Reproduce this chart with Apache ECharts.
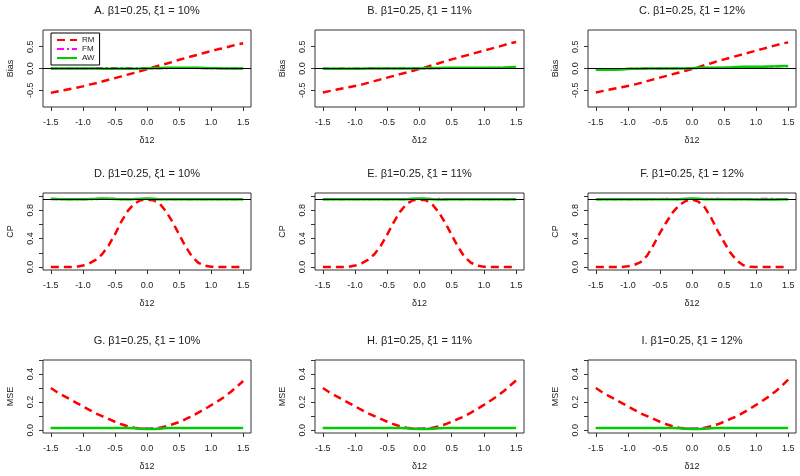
<!DOCTYPE html>
<html>
<head>
<meta charset="utf-8">
<script src="https://cdn.jsdelivr.net/npm/echarts@6/dist/echarts.min.js"></script>
<style>
html,body{margin:0;padding:0;background:#fff;}
#chart{width:800px;height:476px;}
</style>
</head>
<body>
<div id="chart"></div>
<script>
// ---------------- DATA ----------------
const xVals = [-1.5,-1.4,-1.3,-1.2,-1.1,-1.0,-0.9,-0.8,-0.7,-0.6,-0.5,-0.4,-0.3,-0.2,-0.1,0.0,0.1,0.2,0.3,0.4,0.5,0.6,0.7,0.8,0.9,1.0,1.1,1.2,1.3,1.4,1.5];
const seriesNames = ['RM','FM','AW'];
const titles = [
  'A. β1=0.25, ξ1 = 10%','B. β1=0.25, ξ1 = 11%','C. β1=0.25, ξ1 = 12%',
  'D. β1=0.25, ξ1 = 10%','E. β1=0.25, ξ1 = 11%','F. β1=0.25, ξ1 = 12%',
  'G. β1=0.25, ξ1 = 10%','H. β1=0.25, ξ1 = 11%','I. β1=0.25, ξ1 = 12%'
];
const rowNames = ['Bias','CP','MSE'];
const xName = 'δ12';
const refLevels = [0, 0.95, null];
const xTicks = [-1.5,-1.0,-0.5,0.0,0.5,1.0,1.5];
const biasTicks = [-0.5,0.0,0.5];
const biasLabels = [-0.5,0.0,0.5];
const cpTicks = [0.0,0.2,0.4,0.6,0.8,1.0];
const cpLabels = [0.0,0.4,0.8];
const mseTicks = [0.0,0.1,0.2,0.3,0.4,0.5];
const mseLabels = [0.0,0.2,0.4];

// Bias
const biasRM_A = [-0.56,-0.53,-0.50,-0.47,-0.44,-0.41,-0.37,-0.34,-0.30,-0.26,-0.22,-0.18,-0.14,-0.10,-0.06,-0.02,0.03,0.07,0.11,0.15,0.20,0.24,0.28,0.32,0.36,0.40,0.44,0.47,0.51,0.55,0.58];
const biasFM_A = [0,0,0,0,0,0,0,0.01,0.012,0.012,0.012,0.01,0.01,0.008,0.006,0.004,0.004,0.006,0.008,0.01,0.01,0.01,0.01,0.008,0.006,0.004,0.003,0.002,0.002,0.002,0.002];
const biasAW_A = [0,0,0,0,0,0,0,-0.002,-0.003,-0.004,-0.005,-0.005,-0.004,-0.003,-0.002,0.002,0.008,0.012,0.015,0.018,0.02,0.02,0.02,0.018,0.01,0.005,0.003,0.002,0.002,0.002,0.002];
const biasRM_B = [-0.55,-0.52,-0.49,-0.46,-0.43,-0.40,-0.37,-0.33,-0.29,-0.25,-0.21,-0.17,-0.13,-0.09,-0.05,-0.01,0.03,0.08,0.12,0.17,0.21,0.25,0.29,0.33,0.37,0.41,0.45,0.49,0.53,0.58,0.61];
const biasFM_B = [0,0,0,0,0,0,0,0.005,0.006,0.006,0.006,0.005,0.005,0.004,0.003,0.002,0.003,0.005,0.008,0.01,0.012,0.012,0.012,0.012,0.012,0.012,0.013,0.015,0.018,0.025,0.03];
const biasAW_B = [-0.005,-0.005,-0.004,-0.004,-0.003,-0.003,-0.003,-0.002,-0.002,-0.002,-0.001,-0.001,0,0,0,0.002,0.008,0.012,0.014,0.015,0.015,0.015,0.016,0.016,0.016,0.017,0.018,0.018,0.02,0.03,0.035];
const biasRM_C = [-0.55,-0.52,-0.49,-0.46,-0.43,-0.40,-0.37,-0.33,-0.29,-0.25,-0.21,-0.17,-0.13,-0.09,-0.05,-0.01,0.03,0.08,0.12,0.17,0.21,0.25,0.29,0.33,0.37,0.41,0.45,0.49,0.53,0.57,0.60];
const biasFM_C = [-0.01,-0.01,-0.01,-0.01,-0.01,-0.005,0,0,0,0,0,0.003,0.004,0.004,0.004,0.003,0.01,0.015,0.02,0.02,0.02,0.02,0.025,0.03,0.03,0.03,0.035,0.04,0.045,0.05,0.05];
const biasAW_C = [-0.03,-0.03,-0.03,-0.03,-0.025,-0.01,-0.005,-0.003,-0.002,-0.001,0,0,0,0,0,0.005,0.015,0.02,0.02,0.02,0.022,0.025,0.035,0.04,0.04,0.04,0.04,0.045,0.05,0.06,0.06];

// Coverage probability
const cpRM_D = [0,0,0,0,0.002,0.02,0.05,0.10,0.18,0.30,0.46,0.64,0.79,0.89,0.94,0.95,0.94,0.89,0.78,0.63,0.46,0.29,0.15,0.06,0.02,0.005,0,0,0,0,0];
const cpFM_D = [0.955,0.955,0.955,0.955,0.955,0.955,0.955,0.955,0.96,0.962,0.96,0.955,0.955,0.955,0.955,0.96,0.955,0.955,0.955,0.955,0.955,0.955,0.955,0.955,0.955,0.955,0.955,0.955,0.955,0.955,0.955];
const cpAW_D = [0.962,0.958,0.955,0.955,0.955,0.955,0.956,0.96,0.965,0.962,0.956,0.955,0.955,0.957,0.96,0.965,0.96,0.955,0.955,0.955,0.955,0.955,0.955,0.955,0.955,0.955,0.955,0.955,0.955,0.955,0.955];
const cpRM_E = [0,0,0,0,0.003,0.02,0.05,0.10,0.18,0.30,0.46,0.63,0.78,0.89,0.94,0.95,0.94,0.88,0.77,0.62,0.45,0.28,0.14,0.06,0.02,0.005,0,0,0,0,0];
const cpFM_E = [0.955,0.955,0.955,0.955,0.955,0.955,0.955,0.955,0.955,0.955,0.955,0.955,0.955,0.955,0.958,0.96,0.96,0.958,0.96,0.958,0.955,0.955,0.955,0.955,0.955,0.955,0.955,0.955,0.955,0.955,0.955];
const cpAW_E = [0.955,0.955,0.955,0.955,0.955,0.955,0.955,0.955,0.955,0.955,0.955,0.955,0.955,0.955,0.96,0.965,0.96,0.955,0.95,0.95,0.955,0.955,0.955,0.955,0.955,0.955,0.955,0.955,0.955,0.955,0.955];
const cpRM_F = [0,0,0,0,0,0.01,0.03,0.07,0.16,0.31,0.48,0.63,0.77,0.87,0.93,0.95,0.92,0.84,0.69,0.51,0.35,0.20,0.09,0.025,0.005,0,0,0,0,0,0];
const cpFM_F = [0.955,0.955,0.955,0.955,0.955,0.955,0.955,0.955,0.955,0.955,0.958,0.962,0.958,0.955,0.955,0.96,0.955,0.958,0.962,0.96,0.958,0.955,0.955,0.955,0.955,0.958,0.962,0.962,0.958,0.955,0.955];
const cpAW_F = [0.955,0.955,0.955,0.955,0.955,0.955,0.955,0.955,0.955,0.955,0.955,0.955,0.955,0.955,0.96,0.965,0.962,0.955,0.955,0.955,0.955,0.955,0.955,0.955,0.955,0.952,0.95,0.95,0.952,0.955,0.955];

// Mean squared error
const mseRM_G = [0.30,0.27,0.245,0.22,0.195,0.17,0.145,0.12,0.10,0.08,0.06,0.042,0.028,0.018,0.012,0.01,0.012,0.018,0.028,0.042,0.058,0.078,0.10,0.125,0.15,0.178,0.205,0.235,0.27,0.31,0.35];
const mseFM_G = [0.016,0.016,0.016,0.016,0.016,0.016,0.016,0.016,0.016,0.016,0.016,0.016,0.016,0.015,0.013,0.012,0.012,0.013,0.015,0.016,0.016,0.016,0.016,0.016,0.016,0.016,0.016,0.016,0.016,0.016,0.016];
const mseAW_G = [0.016,0.016,0.016,0.016,0.016,0.016,0.016,0.016,0.016,0.016,0.016,0.016,0.016,0.014,0.01,0.009,0.009,0.01,0.015,0.016,0.016,0.016,0.016,0.016,0.016,0.016,0.016,0.016,0.016,0.016,0.016];
const mseRM_H = [0.30,0.27,0.245,0.22,0.195,0.17,0.145,0.12,0.10,0.08,0.06,0.042,0.028,0.018,0.012,0.01,0.012,0.018,0.028,0.042,0.06,0.08,0.10,0.125,0.152,0.18,0.21,0.24,0.275,0.315,0.355];
const mseFM_H = [0.016,0.016,0.016,0.016,0.016,0.016,0.016,0.016,0.016,0.016,0.016,0.016,0.016,0.015,0.013,0.012,0.012,0.013,0.015,0.016,0.016,0.016,0.016,0.016,0.016,0.016,0.016,0.016,0.016,0.016,0.016];
const mseAW_H = [0.016,0.016,0.016,0.016,0.016,0.016,0.016,0.016,0.016,0.016,0.016,0.016,0.016,0.014,0.01,0.009,0.009,0.01,0.014,0.016,0.016,0.016,0.016,0.016,0.016,0.016,0.016,0.016,0.016,0.016,0.016];
const mseRM_I = [0.30,0.27,0.245,0.22,0.195,0.17,0.145,0.12,0.10,0.08,0.06,0.042,0.028,0.018,0.012,0.01,0.012,0.018,0.028,0.042,0.06,0.08,0.10,0.125,0.152,0.18,0.21,0.24,0.275,0.315,0.36];
const mseFM_I = [0.016,0.016,0.016,0.016,0.016,0.016,0.016,0.016,0.016,0.016,0.016,0.016,0.016,0.015,0.013,0.012,0.012,0.013,0.015,0.016,0.016,0.016,0.016,0.016,0.016,0.016,0.016,0.016,0.016,0.016,0.016];
const mseAW_I = [0.016,0.016,0.016,0.016,0.016,0.016,0.016,0.016,0.016,0.016,0.016,0.016,0.016,0.014,0.01,0.009,0.009,0.01,0.014,0.016,0.016,0.016,0.016,0.016,0.016,0.016,0.016,0.016,0.016,0.016,0.016];

const panelData = [
  [biasRM_A, biasFM_A, biasAW_A], [biasRM_B, biasFM_B, biasAW_B], [biasRM_C, biasFM_C, biasAW_C],
  [cpRM_D, cpFM_D, cpAW_D], [cpRM_E, cpFM_E, cpAW_E], [cpRM_F, cpFM_F, cpAW_F],
  [mseRM_G, mseFM_G, mseAW_G], [mseRM_H, mseFM_H, mseAW_H], [mseRM_I, mseFM_I, mseAW_I]
];

// ---------------- LAYOUT / STYLE ----------------
const FONT = 'Liberation Sans, Arial, sans-serif';
const colLeft = [43, 315, 588];
const colWidth = [208, 209, 208];
const rowTop = [30, 193, 360];
const rowHeight = [77, 77, 73];
const yRange = [[-0.884, 0.884], [-0.042, 1.042], [-0.02, 0.5]];
const yTickSets = [biasTicks, cpTicks, mseTicks];
const yLabelSets = [biasLabels, cpLabels, mseLabels];
const xRange = [-1.622, 1.622];
const lineStyles = [
  {color: '#FF0000', width: 2.5, type: [8, 5]},
  {color: '#FF00FF', width: 2, type: [7, 3, 2, 3]},
  {color: '#00CD00', width: 2.5, type: 'solid'}
];
const axisColor = '#333';
const textColor = '#222';

const grids = [], xAxes = [], yAxes = [], series = [], titleArr = [];
for (let p = 0; p < 9; p++) {
  const r = Math.floor(p / 3), c = p % 3;
  grids.push({left: colLeft[c], top: rowTop[r], width: colWidth[c], height: rowHeight[r],
    show: true, borderColor: axisColor, borderWidth: 1, backgroundColor: 'transparent', containLabel: false});
  xAxes.push({
    type: 'value', gridIndex: p, min: xRange[0], max: xRange[1], position: 'bottom',
    name: xName, nameLocation: 'middle', nameGap: 29,
    nameTextStyle: {fontFamily: FONT, fontSize: 9, color: textColor},
    axisLine: {show: false, onZero: false},
    axisTick: {show: true, inside: false, length: 4, customValues: xTicks, lineStyle: {color: axisColor}},
    axisLabel: {show: true, margin: 11, fontFamily: FONT, fontSize: 9, color: textColor,
      customValues: xTicks, formatter: v => v.toFixed(1)},
    splitLine: {show: false}
  });
  yAxes.push({
    type: 'value', gridIndex: p, min: yRange[r][0], max: yRange[r][1], position: 'left',
    name: rowNames[r], nameLocation: 'middle', nameGap: 28, nameRotate: 90,
    nameTextStyle: {fontFamily: FONT, fontSize: 9, color: textColor},
    axisLine: {show: false, onZero: false},
    axisTick: {show: true, inside: false, length: 4, customValues: yTickSets[r], lineStyle: {color: axisColor}},
    axisLabel: {show: true, margin: 8, rotate: 90, fontFamily: FONT, fontSize: 9, color: textColor,
      customValues: yLabelSets[r], formatter: v => v.toFixed(1)},
    splitLine: {show: false}
  });
  titleArr.push({
    text: titles[p], left: colLeft[c] + colWidth[c] / 2, top: rowTop[r] - 25, textAlign: 'center', padding: 0,
    textStyle: {fontFamily: FONT, fontSize: 11, fontWeight: 'normal', color: textColor}
  });
  for (let s = 0; s < 3; s++) {
    const ser = {
      type: 'line', name: seriesNames[s], xAxisIndex: p, yAxisIndex: p,
      data: xVals.map((x, i) => [x, panelData[p][s][i]]),
      showSymbol: false, symbol: 'none', smooth: false,
      lineStyle: Object.assign({}, lineStyles[s]), itemStyle: {color: lineStyles[s].color},
      silent: true, z: 2 + s
    };
    if (s === 2 && refLevels[r] !== null) {
      ser.markLine = {silent: true, symbol: ['none', 'none'], label: {show: false},
        lineStyle: {color: '#000', width: 1, type: 'solid'}, z: 6,
        data: [{yAxis: refLevels[r]}]};
    }
    series.push(ser);
  }
}

const chart = echarts.init(document.getElementById('chart'), null, {renderer: 'canvas'});
chart.setOption({
  animation: false,
  backgroundColor: '#fff',
  title: titleArr,
  legend: {
    data: seriesNames, orient: 'vertical', left: 51, top: 33,
    backgroundColor: '#fff', borderColor: '#000', borderWidth: 1,
    padding: [3, 5, 3, 5], itemGap: 1, itemWidth: 20, itemHeight: 9,
    itemStyle: {opacity: 0},
    textStyle: {fontFamily: FONT, fontSize: 8, color: textColor}, z: 10,
    selectedMode: false
  },
  grid: grids, xAxis: xAxes, yAxis: yAxes, series: series
});
</script>
</body>
</html>
